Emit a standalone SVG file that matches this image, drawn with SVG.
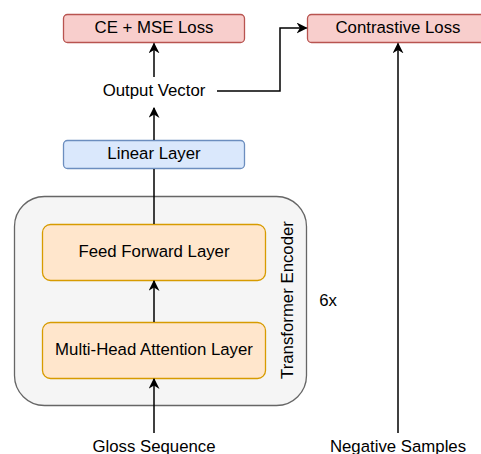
<svg xmlns="http://www.w3.org/2000/svg" width="481" height="454" viewBox="0 0 481 454">
<style>
text{font-family:"Liberation Sans",Arial,sans-serif;font-size:16.8px;fill:#000;text-anchor:middle;dominant-baseline:central}
.red{fill:#f8cecc;stroke:#b85450;stroke-width:1.3}
.blue{fill:#dae8fc;stroke:#6c8ebf;stroke-width:1.3}
.orange{fill:#ffe6cc;stroke:#d79b00;stroke-width:1.3}
.cont{fill:#f5f5f5;stroke:#666;stroke-width:1.3}
.edge{fill:none;stroke:#000;stroke-width:1.5}
</style>
<defs>
<marker id="ah" markerWidth="11" markerHeight="11" viewBox="0 0 10 10" refX="9" refY="5" orient="auto" markerUnits="userSpaceOnUse">
<path d="M0,0 L10,5 L0,10 L3,5 Z" fill="#000"/>
</marker>
</defs>
<g id="encoder">
<rect class="cont" x="14.5" y="196.5" width="292" height="209" rx="30"/>
<text x="287" y="300" transform="rotate(-90 287 300)">Transformer Encoder</text>
</g>
<g id="ce-loss">
<rect class="red" x="63.5" y="14.5" width="181" height="28" rx="4"/>
<text x="154" y="27.5">CE + MSE Loss</text>
</g>
<g id="contrastive-loss">
<rect class="red" x="307.5" y="14.5" width="181" height="28" rx="4"/>
<text x="398" y="27.5">Contrastive Loss</text>
</g>
<g id="output-vector">
<text x="154" y="90.5">Output Vector</text>
</g>
<g id="linear">
<rect class="blue" x="63.5" y="140.5" width="181" height="28" rx="4"/>
<text x="154" y="153.5">Linear Layer</text>
</g>
<g id="ffn">
<rect class="orange" x="42.5" y="224.5" width="223" height="56" rx="8"/>
<text x="154" y="251.5">Feed Forward Layer</text>
</g>
<g id="mha">
<rect class="orange" x="42.5" y="322.5" width="223" height="56" rx="8"/>
<text x="154" y="349.5">Multi-Head Attention Layer</text>
</g>
<g id="six-x"><text x="328" y="300">6x</text></g>
<g id="gloss"><text x="154" y="446.5">Gloss Sequence</text></g>
<g id="negative"><text x="398" y="446.5">Negative Samples</text></g>
<g id="connectors">
<path class="edge" d="M154,77 L154,43.5" marker-end="url(#ah)"/>
<path class="edge" d="M217,91 L280,91 L280,28 L306.5,28" marker-end="url(#ah)"/>
<path class="edge" d="M154,140 L154,108" marker-end="url(#ah)"/>
<path class="edge" d="M154,224 L154,169"/>
<path class="edge" d="M154,322 L154,281" marker-end="url(#ah)"/>
<path class="edge" d="M154,433 L154,379" marker-end="url(#ah)"/>
<path class="edge" d="M398,433 L398,43.5" marker-end="url(#ah)"/>
</g>
</svg>
